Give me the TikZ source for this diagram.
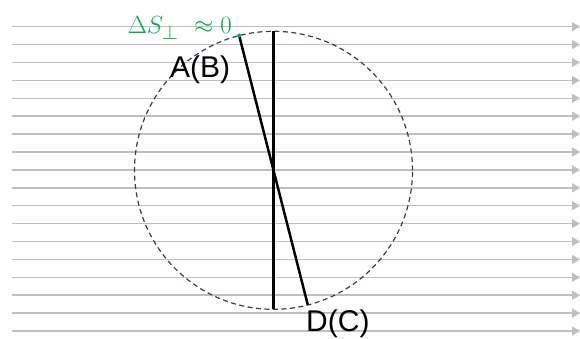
\documentclass[tikz,border=0pt]{standalone}
\usepackage{fontspec}
\setmainfont{Liberation Sans}
\usepackage{tikz}
\usetikzlibrary{arrows.meta}
\usepackage{xcolor}
\definecolor{fieldgray}{RGB}{191,191,191}
\definecolor{circblue}{RGB}{47,64,88}
\definecolor{perpgreen}{RGB}{0,176,80}

\begin{document}
\begin{tikzpicture}[x=1pt,y=1pt,
		fieldline/.style={fieldgray, line width=1.5pt, -{Triangle[length=8pt,width=9pt]}},
		rod/.style={black, line width=2.5pt},
		lbl/.style={anchor=base west, inner sep=0pt, font=\fontsize{30}{32}\selectfont}]
					\useasboundingbox (0,0) rectangle (580,338);
					
					% field lines
					\foreach \k in {0,...,17}{
						\coordinate (s\k) at (12,311.3-17.9*\k);
						\coordinate (e\k) at (580,311.3-17.9*\k);
						\draw[fieldline] (s\k) -- (e\k);
					}
					
					\coordinate (O) at (273.5,167.7);
					\draw[circblue, line width=1.2pt, dash pattern=on 5pt off 3.5pt] (O) circle (139);
					
					\path (O) ++(90:139) coordinate (T);
					\path (O) ++(270:139) coordinate (Bt);
					\path (O) ++(104.3:139) coordinate (A);
					\path (O) ++(-75.7:139) coordinate (D);
					
					\draw[rod] (T) -- (Bt);
					\draw[rod] (A) -- (D);
					\fill[perpgreen] (A) circle (2pt);
					
					\node[lbl] (ab) at (170,261) {A(B)};
					\node[lbl] (dc) at (306,7) {D(C)};
					\node[anchor=base east, inner sep=0pt, text=perpgreen, font=\fontsize{31}{33}\selectfont] (dS) at (232,304) {$\Delta S_\perp\ \approx 0$};
				\end{tikzpicture}
\end{document}
